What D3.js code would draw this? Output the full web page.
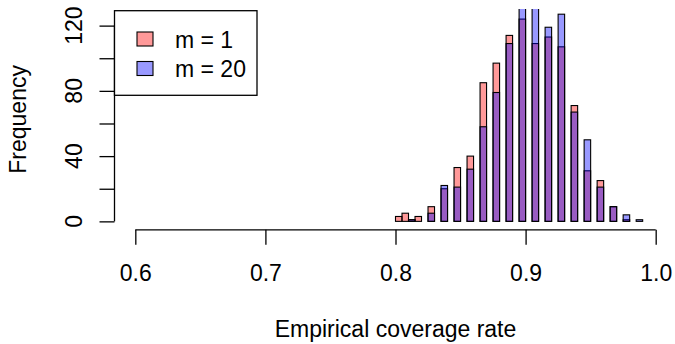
<!DOCTYPE html>
<html>
<head>
<meta charset="utf-8">
<script src="https://cdn.jsdelivr.net/npm/d3@7"></script>
<style>
  html, body { margin: 0; padding: 0; background: #fff; }
  svg { display: block; font-family: "Liberation Sans", Arial, Helvetica, sans-serif; }
</style>
</head>
<body>
<svg id="chart" width="675" height="344"></svg>
<script>
// ---- data ----
const breakStart = 0.80;
const binWidth = 0.005;
const countsM1 = [3, 5, 1, 3, 0, 9, 0, 20, 0, 33, 0, 40, 0, 85, 0, 97, 0, 114, 0, 124,
                  0, 109, 0, 113, 0, 107, 0, 71, 0, 31, 0, 25, 0, 9, 0, 1, 0, 0];
const countsM20 = [0, 0, 1, 0, 0, 5, 0, 22, 0, 21, 0, 32, 0, 58, 0, 79, 0, 109, 0, 140,
                   0, 135, 0, 119, 0, 127, 0, 67, 0, 50, 0, 21, 0, 9, 0, 4, 0, 1];
const xTicks = [0.6, 0.7, 0.8, 0.9, 1.0];
const xTickLabels = ["0.6", "0.7", "0.8", "0.9", "1.0"];
const yTicks = [0, 20, 40, 60, 80, 100, 120];
const yTickLabels = ["0", "", "40", "", "80", "", "120"];
const legendLabels = ["m = 1", "m = 20"];
const xTitle = "Empirical coverage rate";
const yTitle = "Frequency";

// ---- layout ----
const svg = d3.select("#chart");
const plot = { left: 114.5, right: 676.5, top: 8.98, bottom: 229.85 };
const x = d3.scaleLinear().domain([0.584, 1.016]).range([plot.left, plot.right]);
const y = d3.scaleLinear().domain([-5.2, 130.2]).range([plot.bottom, plot.top]);
const fontSize = 23;
const colM1 = "rgba(255,0,0,0.4)";
const colM20 = "rgba(0,0,255,0.4)";

svg.append("defs").append("clipPath").attr("id", "clip")
  .append("rect")
  .attr("x", plot.left).attr("y", plot.top)
  .attr("width", plot.right - plot.left).attr("height", plot.bottom - plot.top);

function bins(counts) {
  return counts.map((c, i) => ({
    x0: breakStart + i * binWidth,
    x1: breakStart + (i + 1) * binWidth,
    c
  }));
}

const barsG = svg.append("g").attr("clip-path", "url(#clip)");
[[countsM1, colM1], [countsM20, colM20]].forEach(([counts, col]) => {
  barsG.append("g").selectAll("rect").data(bins(counts)).join("rect")
    .attr("x", d => x(d.x0))
    .attr("width", d => x(d.x1) - x(d.x0))
    .attr("y", d => y(d.c))
    .attr("height", d => y(0) - y(d.c))
    .attr("fill", col)
    .attr("stroke", "#000")
    .attr("stroke-width", 1.1);
});

// ---- x axis ----
const xAxis = d3.axisBottom(x).tickValues(xTicks)
  .tickFormat((d, i) => xTickLabels[i])
  .tickSize(15).tickPadding(20);
const gx = svg.append("g").attr("transform", `translate(0,${plot.bottom})`).call(xAxis);
gx.select(".domain").remove();
gx.append("line")
  .attr("x1", x(xTicks[0])).attr("x2", x(xTicks[xTicks.length - 1]))
  .attr("stroke", "#000").attr("stroke-width", 1.3);
gx.selectAll(".tick line").attr("stroke", "#000").attr("stroke-width", 1.3);
gx.selectAll(".tick text").attr("font-size", fontSize).attr("font-family", "Liberation Sans, Arial, sans-serif").attr("fill", "#000");

// ---- y axis ----
const yAxis = d3.axisLeft(y).tickValues(yTicks).tickFormat(() => "").tickSize(15);
const gy = svg.append("g").attr("transform", `translate(${plot.left},0)`).call(yAxis);
gy.select(".domain").remove();
gy.append("line")
  .attr("y1", y(yTicks[0])).attr("y2", y(yTicks[yTicks.length - 1]))
  .attr("stroke", "#000").attr("stroke-width", 1.3);
gy.selectAll(".tick line").attr("stroke", "#000").attr("stroke-width", 1.3);
svg.append("g").selectAll("text").data(yTicks.map((t, i) => ({ t, l: yTickLabels[i] })).filter(d => d.l))
  .join("text")
  .attr("transform", d => `translate(82,${y(d.t)}) rotate(-90)`)
  .attr("text-anchor", "middle")
  .attr("font-size", fontSize)
  .text(d => d.l);

// ---- titles ----
svg.append("text")
  .attr("x", (plot.left + plot.right) / 2).attr("y", 337)
  .attr("text-anchor", "middle").attr("font-size", fontSize)
  .text(xTitle);
svg.append("text")
  .attr("transform", `translate(26,${(plot.top + plot.bottom) / 2}) rotate(-90)`)
  .attr("text-anchor", "middle").attr("font-size", fontSize)
  .text(yTitle);

// ---- legend ----
const lg = svg.append("g");
lg.append("rect")
  .attr("x", plot.left).attr("y", 10.7).attr("width", 142.5).attr("height", 84.6)
  .attr("fill", "#fff").attr("stroke", "#000").attr("stroke-width", 1.3);
[colM1, colM20].forEach((col, i) => {
  const cy = 39 + i * 29.5;
  lg.append("rect").attr("x", 137).attr("y", cy - 7).attr("width", 16).attr("height", 14)
    .attr("fill", "#fff");
  lg.append("rect").attr("x", 137).attr("y", cy - 7).attr("width", 16).attr("height", 14)
    .attr("fill", col).attr("stroke", "#000").attr("stroke-width", 1.1);
  lg.append("text").attr("x", 175).attr("y", cy + 8.5)
    .attr("font-size", fontSize).text(legendLabels[i]);
});
</script>
</body>
</html>
